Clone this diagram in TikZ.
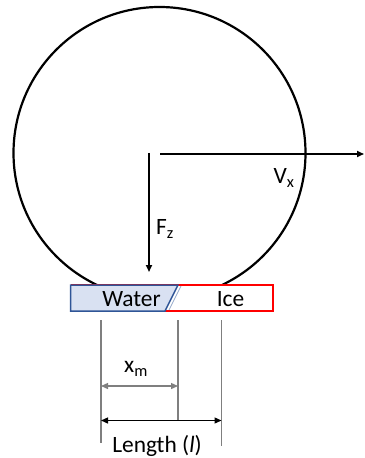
\documentclass[tikz,border=0pt]{standalone}
\usepackage{fontspec}
\setmainfont{Carlito}
\usetikzlibrary{arrows.meta}
\definecolor{waterfill}{HTML}{D9E1F2}
\definecolor{waterline}{HTML}{2F5597}
\definecolor{dimgray}{HTML}{7F7F7F}
\begin{document}
\begin{tikzpicture}[x=1bp,y=-1bp,
  lbl/.style={font=\fontsize{23.5}{26}\selectfont, inner sep=0pt},
  force/.style={line width=1.6bp, -{Triangle[length=7bp,width=6bp]}},
  dimline/.style={draw=dimgray, line width=1.1bp},
  dimarrow/.style={line width=1.3bp, {Triangle[length=7bp,width=6bp]}-{Triangle[length=7bp,width=6bp]}}]
\useasboundingbox (0,0) rectangle (364,458);
% wheel
\node (wheel) [circle, draw, line width=2.2bp, minimum size=292bp, inner sep=0pt] at (159.5,153) {};
% forces
\coordinate (vxs) at (160,154);
\coordinate (vxe) at (364,154);
\coordinate (fzs) at (149,153);
\coordinate (fze) at (149,272);
\draw[force] (vxs) -- (vxe);
\draw[force] (fzs) -- (fze);
\node[lbl] (vx) at (284,178) {V\textsubscript{x}};
\node[lbl] (fz) at (165,229) {F\textsubscript{z}};
% contact patch
\node (ice) [draw=red, fill=white, line width=1.6bp, minimum width=201bp, minimum height=26bp, inner sep=0pt] at (172.5,298) {};
\path[draw=waterline, fill=waterfill, line width=1.5bp] (70.5,285) coordinate (w1) -- (178,285) coordinate (w2) -- (165,311) coordinate (w3) -- (70.5,311) coordinate (w4) -- cycle;
\draw[draw=waterline!50, line width=0.8bp] (181,286) -- (169,310);
\node[lbl] (water) at (131.5,299) {Water};
\node[lbl] (icelbl) at (230.5,299) {Ice};
% dimension lines
\coordinate (a1) at (101,320); \coordinate (a2) at (101,443);
\coordinate (b1) at (178,320); \coordinate (b2) at (178,420.5);
\coordinate (c1) at (221.5,320); \coordinate (c2) at (221.5,446);
\draw[dimline] (a1) -- (a2);
\draw[dimline] (b1) -- (b2);
\draw[dimline] (c1) -- (c2);
\coordinate (xm1) at (101,386); \coordinate (xm2) at (178,386);
\draw[dimarrow, draw=dimgray, fill=dimgray] (xm1) -- (xm2);
\node[lbl] (xm) at (136,369) {x\textsubscript{m}};
\coordinate (l1) at (101,420.5); \coordinate (l2) at (221.5,420.5);
\draw[dimarrow] (l1) -- (l2);
\node[lbl] (len) at (157,446) {Length (\textit{l})};
\end{tikzpicture}
\end{document}
